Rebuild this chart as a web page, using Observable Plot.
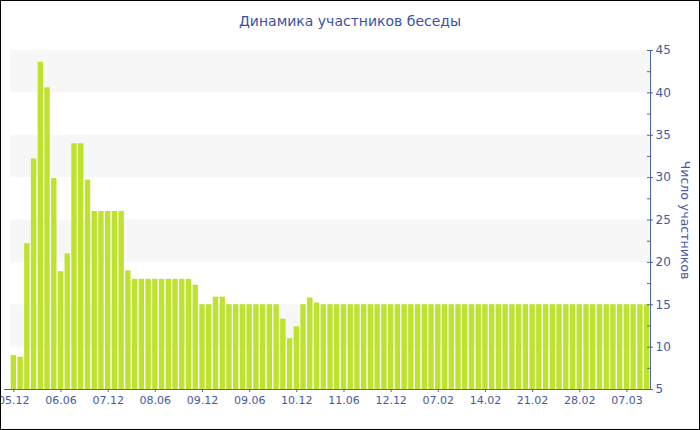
<!DOCTYPE html>
<html>
<head>
<meta charset="utf-8">
<script src="https://cdn.jsdelivr.net/npm/d3@7"></script>
<script src="https://cdn.jsdelivr.net/npm/@observablehq/plot@0.6"></script>
<style>
  html, body { margin: 0; padding: 0; background: #fff; }
  #wrap { position: relative; width: 700px; height: 430px; overflow: hidden; background: #fff; font-family: "DejaVu Sans", sans-serif; }
  #title { position: absolute; left: 0; top: 13px; width: 700px; text-align: center; font-size: 14px; line-height: 17px; color: #3d51a0; z-index: 2; }
  #border { position: absolute; left: 0; top: 0; width: 700px; height: 430px; box-sizing: border-box; border: 1px solid #000; z-index: 3; pointer-events: none; }
  #chart { position: absolute; left: 0; top: 0; }
</style>
</head>
<body>
<div id="wrap">
  <div id="chart"></div>
  <div id="title">Динамика участников беседы</div>
  <div id="border"></div>
</div>
<script>
// Number of participants per day
const participants = [
  9, 8.8, 22.2, 32.2, 43.6, 40.6, 29.9, 18.9, 21, 34,
  34, 29.7, 26, 26, 26, 26, 26, 19, 18, 18,
  18, 18, 18, 18, 18, 18, 18, 17.3, 15, 15,
  15.9, 15.9, 15, 15, 15, 15, 15, 15, 15, 15,
  13.3, 11, 12.4, 15, 15.8, 15.2, 15, 15, 15, 15,
  15, 15, 15, 15, 15, 15, 15, 15, 15, 15,
  15, 15, 15, 15, 15, 15, 15, 15, 15, 15,
  15, 15, 15, 15, 15, 15, 15, 15, 15, 15,
  15, 15, 15, 15, 15, 15, 15, 15, 15, 15,
  15, 15, 15, 15, 15
];
// x tick labels and the bar index they sit under
const xTickIndex = [0, 7, 14, 21, 28, 35, 42, 49, 56, 63, 70, 77, 84, 91];
const xTickLabels = ["05.12", "06.06", "07.12", "08.06", "09.12", "09.06", "10.12", "11.06", "12.12", "07.02", "14.02", "21.02", "28.02", "07.03"];
// y ticks
const yMajor = [5, 10, 15, 20, 25, 30, 35, 40, 45];
const yMinor = [7.5, 12.5, 17.5, 22.5, 27.5, 32.5, 37.5, 42.5];
const yBands = [[10, 15], [20, 25], [30, 35], [40, 45]];
const yLabel = "Число участников";

const data = participants.map((v, i) => ({i, v}));
const axisColor = "#4f64a8";
const textColor = "#4659a3";
const n = participants.length;

const chart = Plot.plot({
  width: 700,
  height: 430,
  marginTop: 50,
  marginBottom: 41,
  marginLeft: 10,
  marginRight: 50,
  style: {fontFamily: "DejaVu Sans, sans-serif", fontSize: "11px", background: "transparent", overflow: "visible"},
  x: {type: "linear", domain: [-0.5, n - 0.5], axis: null},
  y: {domain: [yMajor[0], yMajor[yMajor.length - 1]], axis: null},
  marks: [
    Plot.rect(yBands, {y1: d => d[0], y2: d => d[1], fill: "#f7f7f7"}),
    Plot.rect(data, {x1: d => d.i - 0.4, x2: d => d.i + 0.4, y1: () => yMajor[0], y2: "v", fill: "#bee22e"}),
    // x axis
    Plot.ruleY([yMajor[0]], {stroke: axisColor, insetLeft: -6}),
    Plot.axisX({ticks: xTickIndex, tickFormat: d => xTickLabels[xTickIndex.indexOf(d)], tickSize: 3, tickPadding: 4, stroke: axisColor, fill: textColor, fontSize: 11, label: null}),
    // y axis on the right
    Plot.ruleX([n - 0.5], {stroke: axisColor}),
    Plot.tickY(yMajor, {y: d => d, stroke: axisColor, insetLeft: 637, insetRight: -3}),
    Plot.tickY(yMinor, {y: d => d, stroke: axisColor, insetLeft: 637, insetRight: 0}),
    Plot.text(yMajor, {y: d => d, text: d => String(d), frameAnchor: "right", dx: 5, textAnchor: "start", fill: textColor, fontSize: 12}),
    Plot.text([yLabel], {text: d => d, frameAnchor: "right", textAnchor: "middle", rotate: 90, dx: 34, fill: textColor, fontSize: 12.5})
  ]
});
document.getElementById("chart").appendChild(chart);
</script>
</body>
</html>
